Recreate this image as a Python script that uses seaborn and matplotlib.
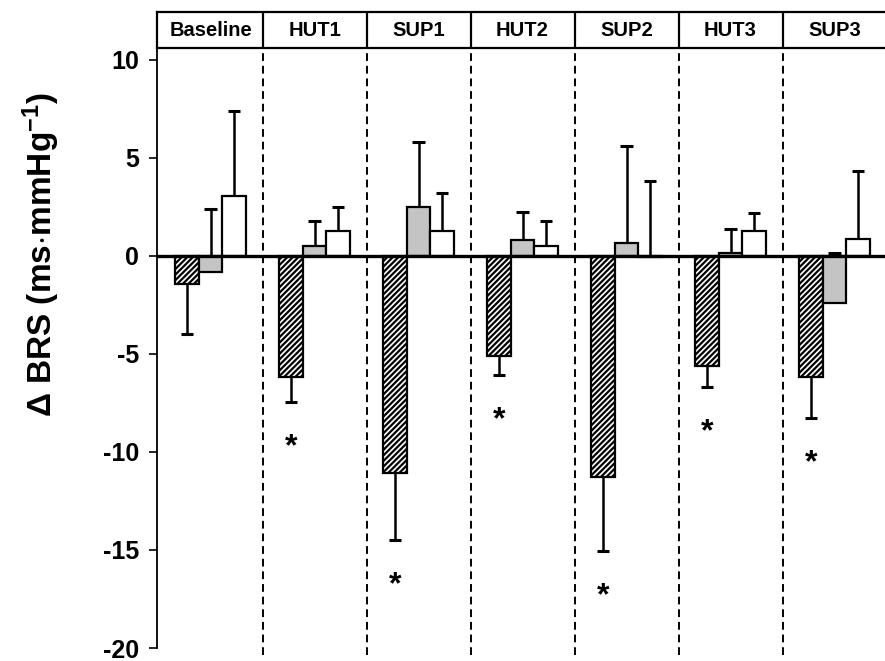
import numpy as np
import pandas as pd
import matplotlib
matplotlib.use('Agg')
import matplotlib.pyplot as plt
import seaborn as sns

# ---- data ----
groups = ['Baseline', 'HUT1', 'SUP1', 'HUT2', 'SUP2', 'HUT3', 'SUP3']
conditions = ['hatched', 'grey', 'white']
means_hatched = [-1.43, -6.17, -11.1, -5.1, -11.3, -5.6, -6.17]
sd_hatched = [2.55, 1.28, 3.4, 1.0, 3.75, 1.1, 2.1]
means_grey = [-0.82, 0.5, 2.5, 0.82, 0.65, 0.15, -2.4]
sd_grey = [3.2, 1.3, 3.3, 1.4, 4.95, 1.2, 2.55]
means_white = [3.06, 1.25, 1.28, 0.5, -0.05, 1.25, 0.85]
sd_white = [4.35, 1.25, 1.9, 1.3, 3.85, 0.95, 3.5]
significant = [False, True, True, True, True, True, True]
yticks = [10, 5, 0, -5, -10, -15, -20]

sns.set_theme(style='white')
plt.rcParams['font.family'] = ['Liberation Sans', 'DejaVu Sans']
plt.rcParams['font.weight'] = 'bold'
plt.rcParams['text.color'] = 'black'
plt.rcParams['axes.labelcolor'] = 'black'
plt.rcParams['ytick.color'] = 'black'
plt.rcParams['mathtext.fontset'] = 'custom'
plt.rcParams['mathtext.rm'] = 'Liberation Sans:bold'
plt.rcParams['mathtext.bf'] = 'Liberation Sans:bold'
plt.rcParams['mathtext.default'] = 'bf'
plt.rcParams['hatch.linewidth'] = 1.6
plt.rcParams['hatch.color'] = 'black'

df = pd.DataFrame({
    'group': groups * 3,
    'cond': [c for c in conditions for _ in groups],
    'value': means_hatched + means_grey + means_white,
})
sds = {'hatched': sd_hatched, 'grey': sd_grey, 'white': sd_white}

W, H = 885, 661
fig = plt.figure(figsize=(W / 100, H / 100), dpi=100)
left = 157 / W
top_main = 1 - 48 / H
bottom_main = 1 - 648 / H
ax = fig.add_axes([left, bottom_main, 1 - left, top_main - bottom_main])
axh = fig.add_axes([left, top_main, 1 - left, (48 - 12) / H])

palette = {'hatched': 'white', 'grey': '#c4c4c4', 'white': 'white'}
sns.barplot(data=df, x='group', y='value', hue='cond', order=groups,
            hue_order=conditions, palette=palette, width=0.675,
            errorbar=None, edgecolor='black', linewidth=1.6, legend=False,
            ax=ax, zorder=2)

for cont, cond in zip(ax.containers, conditions):
    for i, p in enumerate(cont.patches):
        if cond == 'hatched':
            p.set_hatch('//////')
        xc = p.get_x() + p.get_width() / 2
        m = df[(df.cond == cond) & (df.group == groups[i])].value.iloc[0]
        s = sds[cond][i]
        tip = m - s if cond == 'hatched' else m + s
        ax.vlines(xc, m, tip, color='black', lw=1.8, zorder=1)
        ax.hlines(tip, xc - 0.06, xc + 0.06, color='black', lw=2.2, zorder=3)
        if cond == 'hatched' and significant[i]:
            ax.text(xc, tip - 2.3, '*', ha='center', va='center',
                    fontsize=23, fontweight='bold', color='black')

ax.axhline(0, color='black', lw=2.4, zorder=4)
for b in np.arange(0.5, len(groups) - 1, 1.0):
    ax.axvline(b, ymin=-0.012, color='black', lw=1.4, ls=(0, (4, 2.5)),
               zorder=0, clip_on=False)

ax.set_xlim(-0.515, len(groups) - 0.515)
ax.set_ylim(-20, 10.6)
ax.set_yticks(yticks)
ax.set_yticklabels([str(t) for t in yticks], fontsize=18, fontweight='bold')
ax.set_xticks([])
ax.set_xlabel('')
ax.set_ylabel(r'$\Delta$ BRS (ms$\cdot$mmHg$^{-1}$)', fontsize=24,
              fontweight='bold', color='black')
ax.yaxis.set_label_coords(-0.13, 0.655)
ax.tick_params(axis='y', direction='out', length=6, width=1.2, pad=7,
               left=True, colors='black')
for s in ['top', 'right', 'bottom']:
    ax.spines[s].set_visible(False)
ax.spines['left'].set_color('black')
ax.spines['left'].set_linewidth(1.3)
ax.spines['left'].set_bounds(-20, 10.6)
ax.set_facecolor('none')

# header boxes
axh.set_xlim(ax.get_xlim())
axh.set_ylim(0, 1)
axh.set_xticks([])
axh.set_yticks([])
for s in ['top', 'bottom', 'left']:
    axh.spines[s].set_visible(True)
    axh.spines[s].set_color('black')
    axh.spines[s].set_linewidth(1.6)
axh.spines['right'].set_visible(False)
for b in np.arange(0.5, len(groups) - 1, 1.0):
    axh.axvline(b, color='black', lw=1.6)
for i, g in enumerate(groups):
    axh.text(i, 0.48, g, ha='center', va='center', fontsize=14.5,
             fontweight='bold', color='black')
axh.set_facecolor('white')

fig.savefig('out.png', dpi=100, facecolor='white')
